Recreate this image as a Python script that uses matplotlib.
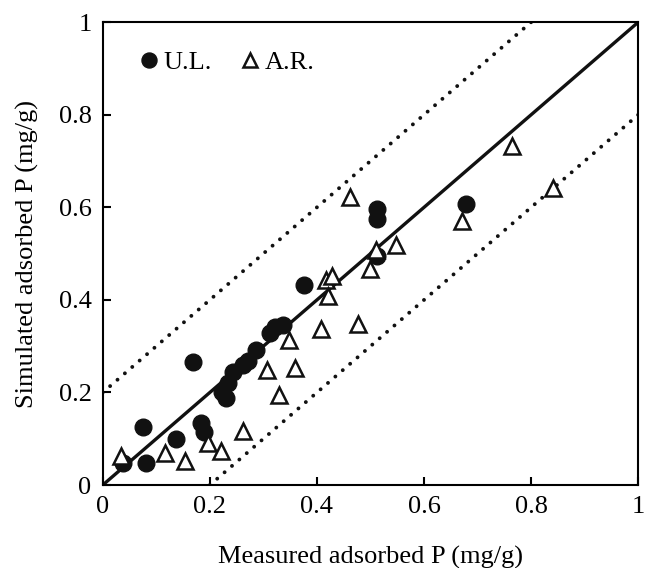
import numpy as np
import matplotlib
matplotlib.use('Agg')
import matplotlib.pyplot as plt

plt.rcParams['font.family'] = ['Liberation Serif', 'DejaVu Serif']

# U.L. (filled circles)
ul_meas = [0.038, 0.080, 0.075, 0.136, 0.184, 0.190, 0.169, 0.222, 0.231, 0.234,
           0.243, 0.262, 0.272, 0.287, 0.312, 0.321, 0.336, 0.376, 0.513, 0.513,
           0.513, 0.678]
ul_sim = [0.047, 0.047, 0.126, 0.099, 0.134, 0.115, 0.266, 0.202, 0.188, 0.220,
          0.244, 0.259, 0.268, 0.292, 0.328, 0.341, 0.346, 0.432, 0.596, 0.574,
          0.495, 0.607]

# A.R. (open triangles)
ar_meas = [0.034, 0.116, 0.153, 0.197, 0.221, 0.262, 0.306, 0.329, 0.348, 0.359,
           0.407, 0.417, 0.429, 0.420, 0.476, 0.462, 0.499, 0.510, 0.548, 0.671,
           0.764, 0.840]
ar_sim = [0.063, 0.069, 0.052, 0.090, 0.074, 0.117, 0.248, 0.194, 0.313, 0.253,
          0.338, 0.443, 0.451, 0.408, 0.348, 0.622, 0.466, 0.508, 0.518, 0.571,
          0.732, 0.641]

fig = plt.figure(figsize=(6.46, 5.68), dpi=100)
ax = fig.add_axes([0.159, 0.146, 0.829, 0.815])

x = np.array([0, 1])
ax.plot(x, x, '-', color='#111111', lw=2.4, zorder=2)
for xs, ys in [([0, 0.8], [0.2, 1.0]), ([0.2, 1.0], [0, 0.8])]:
    ax.plot(xs, ys, color='#111111', lw=2.8, dashes=(0.01, 2.5),
            dash_capstyle='round', zorder=2)

ax.plot(ul_meas, ul_sim, 'o', ms=12, color='#111111', ls='none', label='U.L.', zorder=3)
ax.plot(ar_meas, ar_sim, '^', ms=11, mfc='white', mec='#111111', mew=1.8,
        ls='none', label='A.R.', zorder=4)

ax.set_xlim(0, 1)
ax.set_ylim(0, 1)
ax.set_xticks([0, 0.2, 0.4, 0.6, 0.8, 1])
ax.set_xticklabels(['0', '0.2', '0.4', '0.6', '0.8', '1'])
ax.set_yticks([0, 0.2, 0.4, 0.6, 0.8, 1])
ax.set_yticklabels(['0', '0.2', '0.4', '0.6', '0.8', '1'])
ax.tick_params(direction='in', length=6, width=1.5, labelsize=19, pad=8)
for s in ax.spines.values():
    s.set_linewidth(1.5)

ax.set_xlabel('Measured adsorbed P (mg/g)', fontsize=19, labelpad=20)
ax.set_ylabel('Simulated adsorbed P (mg/g)', fontsize=19, labelpad=14)

ax.legend(loc='upper left', bbox_to_anchor=(0.015, 0.99), ncol=2, frameon=False,
          fontsize=19, handletextpad=0.0, columnspacing=0.9, handlelength=1.1,
          markerscale=0.9)

plt.savefig('out.png', dpi=100)
plt.close()
